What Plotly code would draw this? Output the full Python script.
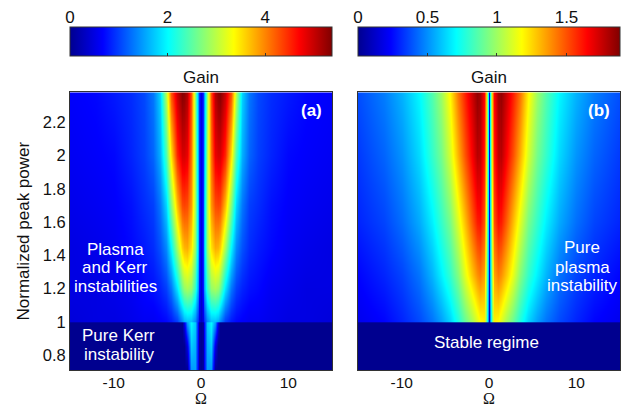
import plotly.graph_objects as go

# ---------------- data ----------------
# Panel (a): half-profiles for Omega >= 0 (mirrored for Omega < 0)
omega_a = [0, 0.2, 0.4, 0.7, 1.1, 1.6, 1.9, 2.2, 2.8, 3.4, 4.0, 4.75, 5.5, 6.5, 8, 10, 12, 15]
power_a = [0.70, 0.85, 0.999, 1.0, 1.2, 1.45, 1.7, 2.0, 2.4]
gain_a = [
    [0.0, 0.1, 0.6, 1.5, 1.45, 0.0, 0.0, 0.0, 0, 0, 0, 0, 0, 0, 0, 0, 0, 0],
    [0.0, 0.1, 0.65, 1.6, 1.75, 0.5, 0.0, 0.0, 0, 0, 0, 0, 0, 0, 0, 0, 0, 0],
    [0.0, 0.1, 0.7, 1.75, 2.0, 1.5, 0.5, 0.0, 0, 0, 0, 0, 0, 0, 0, 0, 0, 0],
    [0.3, 0.5, 0.9, 1.4, 1.7, 1.7, 1.6, 1.4, 1.0, 0.8, 0.7, 0.65, 0.6, 0.6, 0.55, 0.5, 0.5, 0.45],
    [0.4, 0.8, 1.5, 2.3, 2.8, 2.9, 2.8, 2.6, 1.9, 1.3, 1.0, 0.85, 0.75, 0.7, 0.6, 0.55, 0.5, 0.5],
    [0.45, 0.9, 1.7, 2.8, 3.5, 3.8, 3.75, 3.6, 2.9, 2.0, 1.4, 1.1, 0.9, 0.8, 0.7, 0.6, 0.55, 0.5],
    [0.5, 0.9, 1.7, 2.9, 3.9, 4.3, 4.35, 4.3, 3.7, 2.7, 1.8, 1.3, 1.0, 0.9, 0.75, 0.65, 0.6, 0.55],
    [0.5, 0.9, 1.6, 2.9, 4.1, 4.8, 4.9, 4.9, 4.5, 3.5, 2.4, 1.6, 1.2, 1.0, 0.85, 0.7, 0.65, 0.6],
    [0.5, 0.9, 1.5, 2.8, 4.3, 5.1, 5.3, 5.35, 5.0, 4.3, 3.0, 1.8, 1.3, 1.05, 0.9, 0.8, 0.7, 0.65],
]

# Panel (b)
omega_b = [0, 0.12, 0.3, 0.6, 1.0, 1.4, 2.0, 2.7, 3.5, 4.5, 5.5, 6.5, 8, 10, 12, 15]
power_b = [0.70, 0.999, 1.0, 1.28, 1.6, 2.0, 2.4]
gain_b = [
    [0] * 16,
    [0] * 16,
    [0.1, 0.5, 0.95, 1.2, 1.18, 1.12, 1.02, 0.9, 0.76, 0.63, 0.53, 0.45, 0.37, 0.3, 0.24, 0.2],
    [0.15, 0.6, 1.05, 1.35, 1.42, 1.38, 1.28, 1.13, 0.95, 0.8, 0.68, 0.57, 0.45, 0.36, 0.3, 0.24],
    [0.2, 0.65, 1.15, 1.5, 1.62, 1.6, 1.48, 1.3, 1.12, 0.93, 0.8, 0.68, 0.55, 0.44, 0.36, 0.3],
    [0.2, 0.7, 1.25, 1.6, 1.76, 1.78, 1.66, 1.5, 1.32, 1.1, 0.92, 0.8, 0.64, 0.51, 0.42, 0.34],
    [0.2, 0.7, 1.3, 1.65, 1.82, 1.85, 1.75, 1.6, 1.44, 1.2, 1.0, 0.86, 0.7, 0.57, 0.47, 0.38],
]

zmax_a = 5.37
zmax_b = 1.885
ytick_vals = [0.8, 1, 1.2, 1.4, 1.6, 1.8, 2, 2.2]
ytick_text = ["0.8", "1", "1.2", "1.4", "1.6", "1.8", "2", "2.2"]
xtick_vals = [-10, 0, 10]
xtick_text = ["-10", "0", "10"]
cb_a_ticks = [0, 2, 4]
cb_b_ticks = [0, 0.5, 1, 1.5]
cb_b_text = ["0", "0.5", "1", "1.5"]


def mirror(xs, rows):
    full_x = [-v for v in xs[:0:-1]] + list(xs)
    full_z = [list(r[:0:-1]) + list(r) for r in rows]
    return full_x, full_z


xa, za = mirror(omega_a, gain_a)
xb, zb = mirror(omega_b, gain_b)

jet = [[0, "rgb(0,0,143)"], [0.125, "rgb(0,0,255)"], [0.375, "rgb(0,255,255)"],
       [0.625, "rgb(255,255,0)"], [0.875, "rgb(255,0,0)"], [1, "rgb(128,0,0)"]]

FONT = "Liberation Sans, Arial, sans-serif"
SERIF = "Liberation Serif, Times New Roman, serif"
TXT = "#111"

W, H = 631, 409
ML, MR, MT, MB = 70, 11, 0, 39
PW = W - ML - MR
PH = H - MT - MB


def px2x(px):
    return (px - ML) / PW


def py2y(py):
    return (H - MB - py) / PH


cb_common = dict(orientation="h", lenmode="pixels", len=262, thickness=29,
                 xanchor="center", xpad=0, ypad=0, yanchor="top", y=py2y(27),
                 showticklabels=False, ticks="inside", ticklen=3,
                 tickcolor="#333", outlinewidth=1, outlinecolor="#333")

fig = go.Figure()
fig.add_trace(go.Heatmap(x=xa, y=power_a, z=za, zmin=0, zmax=zmax_a, colorscale=jet,
                         zsmooth="best", xaxis="x", yaxis="y", hoverinfo="skip",
                         colorbar=dict(cb_common, x=px2x(201), tickvals=cb_a_ticks)))
fig.add_trace(go.Heatmap(x=xb, y=power_b, z=zb, zmin=0, zmax=zmax_b, colorscale=jet,
                         zsmooth="best", xaxis="x2", yaxis="y2", hoverinfo="skip",
                         colorbar=dict(cb_common, x=px2x(489), tickvals=cb_b_ticks)))
# invisible helpers that carry the colour-bar tick label axes (labels above bars)
fig.add_trace(go.Scatter(x=[0, zmax_a], y=[0, 0], mode="markers", opacity=0,
                         showlegend=False, hoverinfo="skip", xaxis="x3", yaxis="y3"))
fig.add_trace(go.Scatter(x=[0, zmax_b], y=[0, 0], mode="markers", opacity=0,
                         showlegend=False, hoverinfo="skip", xaxis="x4", yaxis="y4"))

ydom = [0, py2y(92.3)]
cbdom = [py2y(56), py2y(27)]
axis_common = dict(showline=True, mirror=True, linecolor="#333", linewidth=1,
                   showgrid=False, zeroline=False, ticks="",
                   tickfont=dict(family=FONT, size=15.5, color=TXT))
cb_axis = dict(showline=False, showgrid=False, zeroline=False, ticks="", side="top",
               tickfont=dict(family=FONT, size=17, color=TXT))
fig.update_layout(
    width=W, height=H, margin=dict(l=ML, r=MR, t=MT, b=MB),
    paper_bgcolor="white", plot_bgcolor="white", showlegend=False,
    font=dict(family=FONT, size=17, color=TXT),
    xaxis=dict(axis_common, domain=[0, px2x(332)], range=[-15, 15], tickvals=xtick_vals,
               ticktext=xtick_text, ticklabelstandoff=-2),
    xaxis2=dict(axis_common, domain=[px2x(358), 1], range=[-15, 15], tickvals=xtick_vals,
                ticktext=xtick_text, anchor="y2", ticklabelstandoff=-2),
    yaxis=dict(axis_common, domain=ydom, range=[0.71, 2.38], tickvals=ytick_vals,
               ticktext=ytick_text, tickfont=dict(family=FONT, size=16.5, color=TXT),
               title=dict(text="Normalized peak power", standoff=8, font=dict(size=17))),
    yaxis2=dict(axis_common, domain=ydom, range=[0.71, 2.38], tickvals=ytick_vals,
                showticklabels=False, anchor="x2"),
    xaxis3=dict(cb_axis, domain=[0, px2x(332)], range=[0, zmax_a], tickvals=cb_a_ticks,
                anchor="y3"),
    yaxis3=dict(domain=cbdom, visible=False, range=[-1, 1], anchor="x3"),
    xaxis4=dict(cb_axis, domain=[px2x(358), 1], range=[0, zmax_b], tickvals=cb_b_ticks,
                ticktext=cb_b_text, anchor="y4"),
    yaxis4=dict(domain=cbdom, visible=False, range=[-1, 1], anchor="x4"),
)

white = dict(family=FONT, size=17, color="white")
notes = [
    ("x", "y", -9.8, 1.432, "Plasma", white),
    ("x", "y", -9.8, 1.324, "and Kerr", white),
    ("x", "y", -9.8, 1.212, "instabilities", white),
    ("x", "y", -9.4, 0.916, "Pure Kerr", white),
    ("x", "y", -9.4, 0.802, "instability", white),
    ("x", "y", 12.7, 2.268, "<b>(a)</b>", white),
    ("x2", "y2", 12.6, 2.268, "<b>(b)</b>", white),
    ("x2", "y2", 10.67, 1.444, "Pure", white),
    ("x2", "y2", 10.67, 1.326, "plasma", white),
    ("x2", "y2", 10.67, 1.216, "instability", white),
    ("x2", "y2", -0.26, 0.874, "Stable regime", white),
]
for xr, yr, xv, yv, txt, fnt in notes:
    fig.add_annotation(xref=xr, yref=yr, x=xv, y=yv, text=txt, showarrow=False,
                       font=fnt, align="center", xanchor="center", yanchor="middle")
for cx in (201, 489):
    fig.add_annotation(xref="paper", yref="paper", x=px2x(cx), y=py2y(78), text="Gain",
                       showarrow=False, xanchor="center", yanchor="middle",
                       font=dict(family=FONT, size=17, color=TXT))
    fig.add_annotation(xref="paper", yref="paper", x=px2x(cx), y=py2y(409), text="Ω",
                       showarrow=False, xanchor="center", yanchor="bottom",
                       font=dict(family=SERIF, size=16, color=TXT))

fig.write_html("out.html")
